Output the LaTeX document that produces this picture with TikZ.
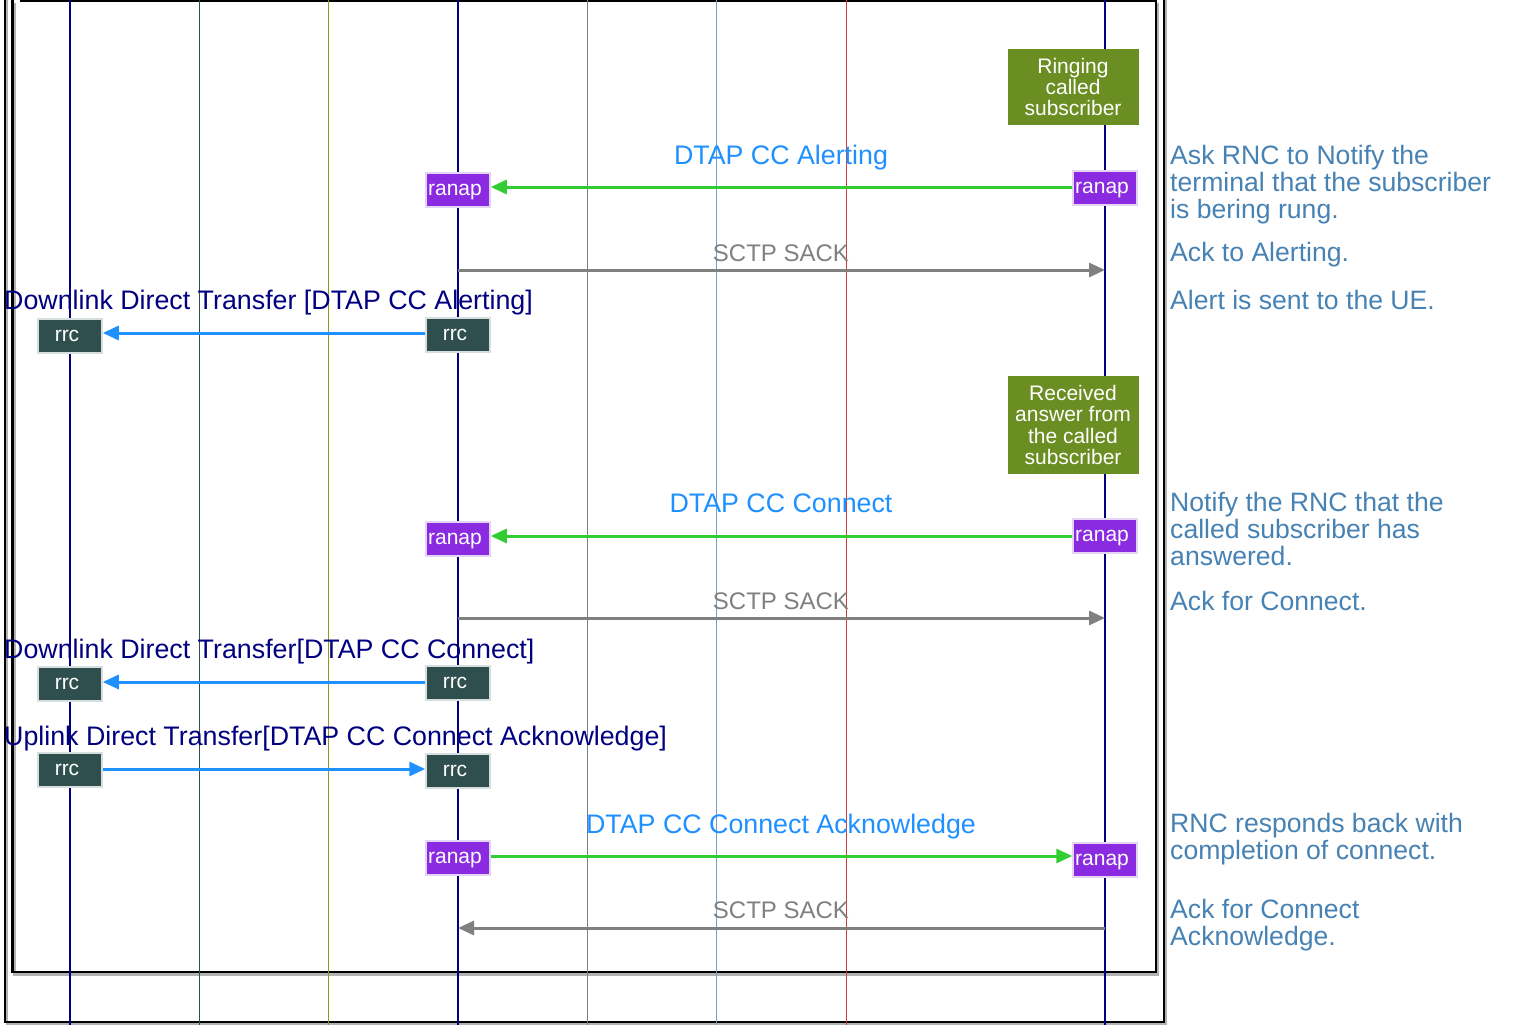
\documentclass[tikz,border=0pt]{standalone}
\usepackage{fontspec}
\setmainfont{Liberation Sans}
\usetikzlibrary{arrows.meta}

\definecolor{lnavy}{RGB}{0,0,128}
\definecolor{lslate}{RGB}{47,79,79}
\definecolor{lolive}{RGB}{150,150,30}
\definecolor{lgray}{RGB}{112,128,144}
\definecolor{lsteel}{RGB}{110,160,210}
\definecolor{lred}{RGB}{205,60,60}
\definecolor{ranapfill}{RGB}{138,43,226}
\definecolor{ranapedge}{RGB}{228,212,245}
\definecolor{rrcfill}{RGB}{47,79,79}
\definecolor{rrcedge}{RGB}{215,222,222}
\definecolor{notegreen}{RGB}{107,142,35}
\definecolor{msgblue}{RGB}{30,144,255}
\definecolor{msggreen}{RGB}{50,205,50}
\definecolor{msggray}{RGB}{128,128,128}
\definecolor{sidecol}{RGB}{70,130,180}

\tikzset{
  lifeline/.style={line width=1pt},
  mainline/.style={line width=2pt, draw=lnavy},
  ranapbox/.style={fill=ranapfill, draw=ranapedge, line width=1.5pt, text=white,
    font=\fontsize{21}{21}\selectfont, minimum width=64pt, minimum height=34pt, inner sep=0pt,
    text depth=0pt, execute at end node=\kern6pt},
  rrcbox/.style={fill=rrcfill, draw=rrcedge, line width=1.5pt, text=white,
    font=\fontsize{21}{21}\selectfont, minimum width=64pt, minimum height=34pt, inner sep=0pt,
    execute at end node=\kern6pt},
  notebox/.style={fill=notegreen, text=white, align=center, inner sep=0pt,
    font=\fontsize{21}{21.3}\selectfont, minimum width=131pt},
  msglabel/.style={font=\fontsize{26.8}{27}\selectfont, inner sep=0pt},
  acklabel/.style={font=\fontsize{24}{27}\selectfont, inner sep=0pt, text=msggray},
  sidenote/.style={text=sidecol, font=\fontsize{26.6}{27}\selectfont, align=left,
    anchor=north west, inner sep=0pt},
  tip/.style={-{Triangle[length=16pt,width=14pt]}},
  greenmsg/.style={tip, draw=msggreen, fill=msggreen, line width=3pt},
  bluemsg/.style={tip, draw=msgblue, fill=msgblue, line width=3pt},
  graymsg/.style={tip, draw=msggray, fill=msggray, line width=3pt},
  frameline/.style={draw=black, line width=2.5pt},
  frameshadow/.style={draw=black!30, line width=2.5pt}
}

\begin{document}
\begin{tikzpicture}[x=1pt,y=-1pt]
\useasboundingbox (0,0) rectangle (1519,1025);
\fill[white] (0,0) rectangle (1519,1025);

% frames with a light drop shadow
\draw[frameshadow] (7,-10) -- (7,1024.5) -- (1166,1024.5) -- (1166,-10);
\draw[frameline] (5,-10) -- (5,1022) -- (1164,1022) -- (1164,-10);
\draw[frameshadow] (14.5,3) -- (14.5,974.5) -- (1158,974.5) -- (1158,3);
\draw[frameline] (12.5,-10) -- (12.5,972) -- (1156,972) -- (1156,-10);
\draw[frameline] (20,1) -- (1156,1);

% lifelines
\draw[mainline] (70,0) coordinate (ue) -- (70,1025);
\draw[lifeline, draw=lslate] (199,0) -- (199,1025);
\draw[lifeline, draw=lolive] (328,0) -- (328,1025);
\draw[mainline] (458,0) coordinate (rnc) -- (458,1025);
\draw[lifeline, draw=lgray] (587,0) -- (587,1025);
\draw[lifeline, draw=lsteel] (716,0) -- (716,1025);
\draw[lifeline, draw=lred] (846,0) -- (846,1025);
\draw[mainline] (1105,0) coordinate (msc) -- (1105,1025);

% state notes on the core side
\node[notebox, minimum height=76pt] (ring) at (1073,87) {Ringing\\called\\subscriber};
\node[notebox, minimum height=98pt] (answer) at (1073,425) {Received\\answer from\\the called\\subscriber};

% message boxes
\node[ranapbox] (ra1r) at (1105,188) {ranap};
\node[ranapbox] (ra1l) at (458,190) {ranap};
\node[rrcbox] (rc1l) at (70,336) {rrc};
\node[rrcbox] (rc1r) at (458,335) {rrc};
\node[ranapbox] (ra2r) at (1105,536) {ranap};
\node[ranapbox] (ra2l) at (458,539) {ranap};
\node[rrcbox] (rc2l) at (70,684) {rrc};
\node[rrcbox] (rc2r) at (458,683) {rrc};
\node[rrcbox] (rc3l) at (70,770) {rrc};
\node[rrcbox] (rc3r) at (458,771) {rrc};
\node[ranapbox] (ra3l) at (458,858) {ranap};
\node[ranapbox] (ra3r) at (1105,860) {ranap};

% end points of the SCTP acknowledgements on the lifelines
\coordinate (s1a) at (458,270);
\coordinate (s1b) at (1105,270);
\coordinate (s2a) at (458,618);
\coordinate (s2b) at (1105,618);
\coordinate (s3a) at (1105,928);
\coordinate (s3b) at (458,928);

% messages
\draw[greenmsg] (ra1r.west |- 0,187) -- (ra1l.east |- 0,187);
\draw[graymsg] (s1a) -- (s1b);
\draw[bluemsg] (rc1r.west |- 0,333) -- (rc1l.east |- 0,333);
\draw[greenmsg] (ra2r.west |- 0,536) -- (ra2l.east |- 0,536);
\draw[graymsg] (s2a) -- (s2b);
\draw[bluemsg] (rc2r.west |- 0,682) -- (rc2l.east |- 0,682);
\draw[bluemsg] (rc3l.east |- 0,769) -- (rc3r.west |- 0,769);
\draw[greenmsg] (ra3l.east |- 0,856) -- (ra3r.west |- 0,856);
\draw[graymsg] (s3a) -- (s3b);

% message labels
\node[msglabel, text=msgblue, anchor=base] (l1) at (781,164) {DTAP CC Alerting};
\node[acklabel, anchor=base] (l2) at (781,261) {SCTP SACK};
\node[msglabel, text=lnavy, anchor=base west] (l3) at (4,309) {Downlink Direct Transfer [DTAP CC Alerting]};
\node[msglabel, text=msgblue, anchor=base] (l4) at (781,512) {DTAP CC Connect};
\node[acklabel, anchor=base] (l5) at (781,609) {SCTP SACK};
\node[msglabel, text=lnavy, anchor=base west] (l6) at (4,658) {Downlink Direct Transfer[DTAP CC Connect]};
\node[msglabel, text=lnavy, anchor=base west] (l7) at (4,745) {Uplink Direct Transfer[DTAP CC Connect Acknowledge]};
\node[msglabel, text=msgblue, anchor=base] (l8) at (781,833) {DTAP CC Connect Acknowledge};
\node[acklabel, anchor=base] (l9) at (781,918) {SCTP SACK};

% explanations in the right margin
\node[sidenote] (n1) at (1170,145) {Ask RNC to Notify the\\terminal that the subscriber\\is bering rung.};
\node[sidenote] (n2) at (1170,242) {Ack to Alerting.};
\node[sidenote] (n3) at (1170,290) {Alert is sent to the UE.};
\node[sidenote] (n4) at (1170,492) {Notify the RNC that the\\called subscriber has\\answered.};
\node[sidenote] (n5) at (1170,591) {Ack for Connect.};
\node[sidenote] (n6) at (1170,813) {RNC responds back with\\completion of connect.};
\node[sidenote] (n7) at (1170,899) {Ack for Connect\\Acknowledge.};
\end{tikzpicture}
\end{document}
